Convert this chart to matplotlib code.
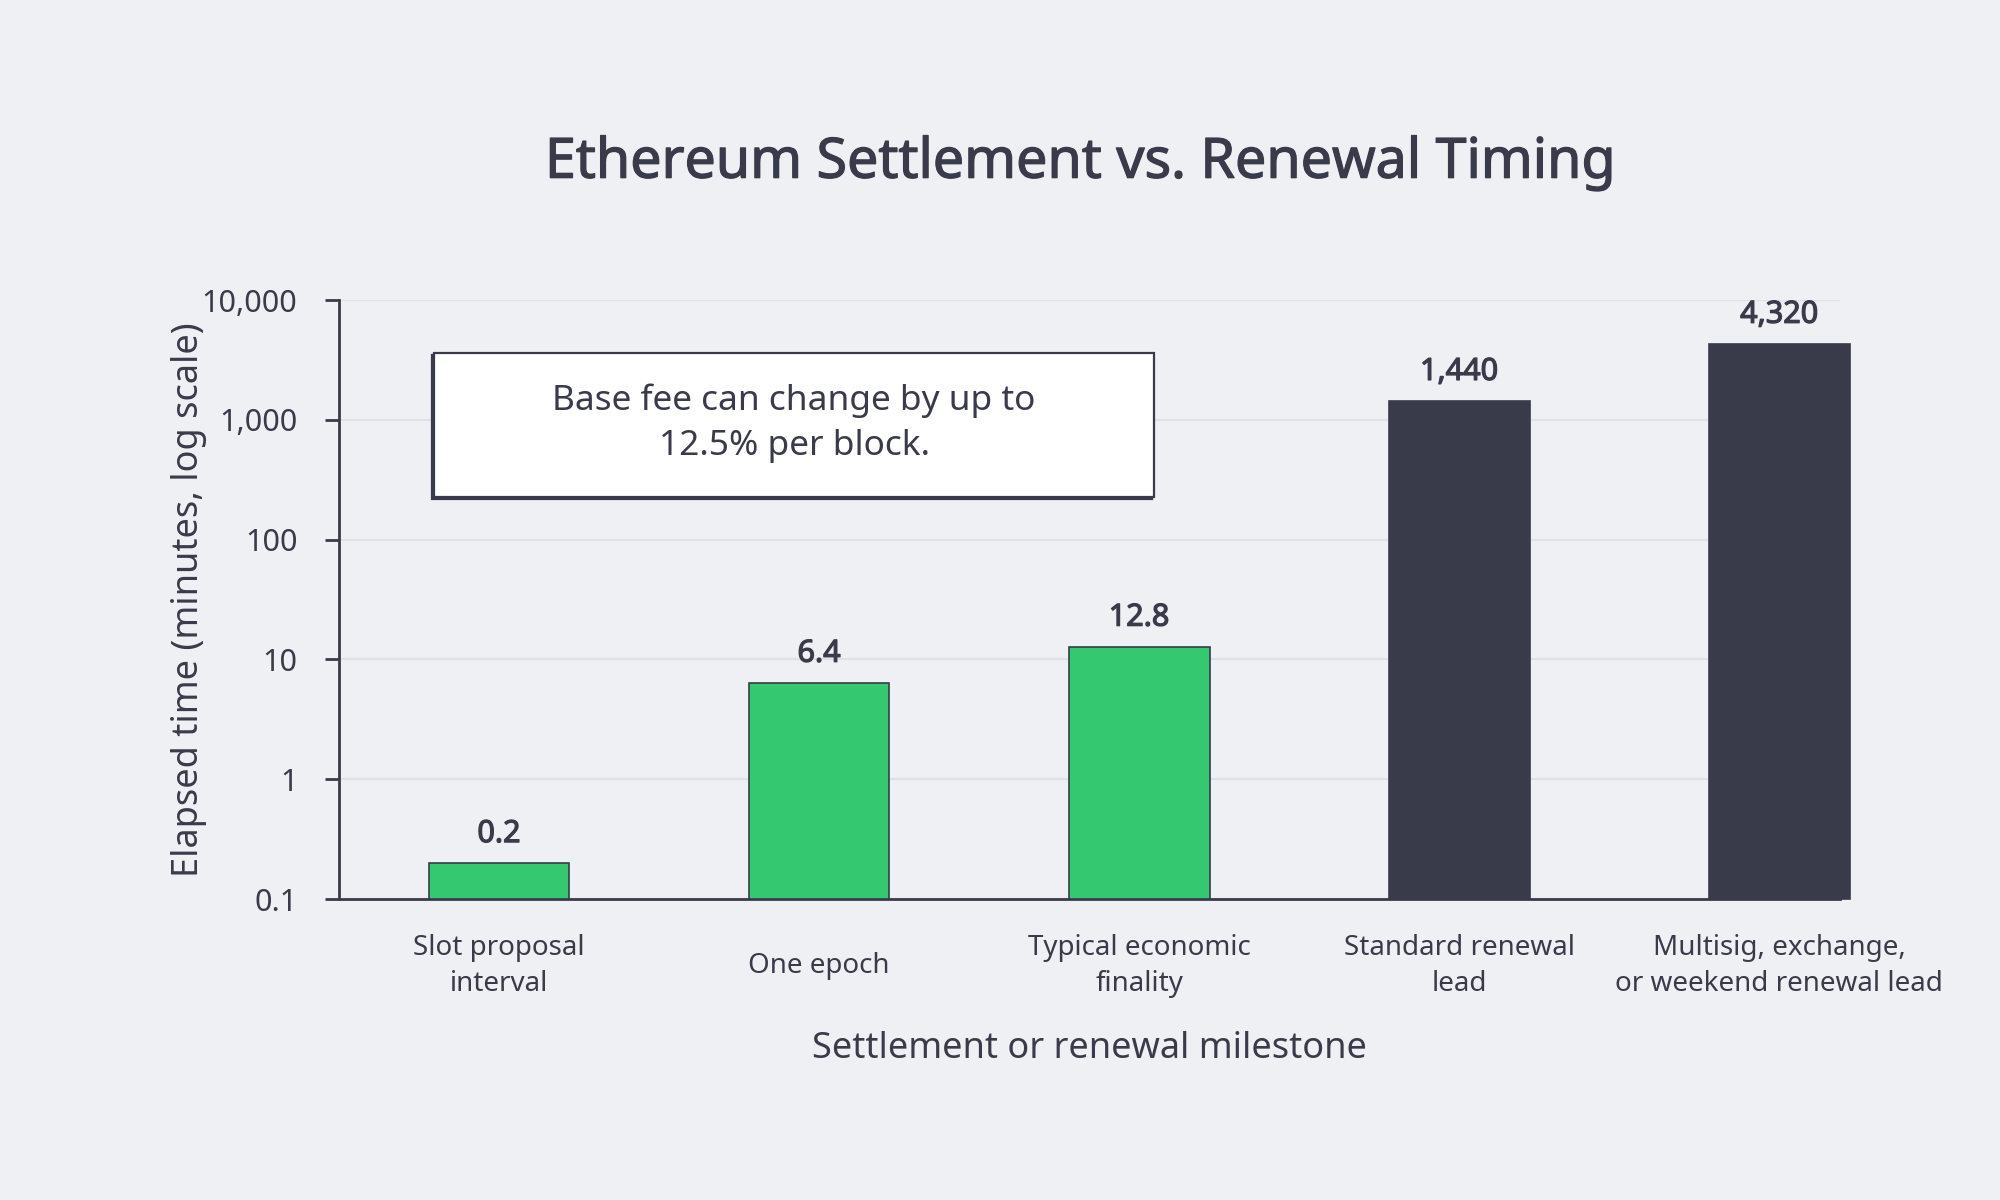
import matplotlib
matplotlib.use("Agg")
import matplotlib.pyplot as plt
import matplotlib.patheffects as pe
from matplotlib.patches import Rectangle
from matplotlib.ticker import FixedLocator, NullLocator

plt.rcParams['font.family'] = ['Noto Sans', 'DejaVu Sans']

categories = ["Slot proposal\ninterval", "One epoch", "Typical economic\nfinality",
              "Standard renewal\nlead", "Multisig, exchange,\nor weekend renewal lead"]
values = [0.2, 6.4, 12.8, 1440, 4320]
value_labels = ["0.2", "6.4", "12.8", "1,440", "4,320"]
groups = ["settlement", "settlement", "settlement", "renewal", "renewal"]
y_ticks = [0.1, 1, 10, 100, 1000, 10000]
y_tick_labels = ["0.1", "1", "10", "100", "1,000", "10,000"]
title = "Ethereum Settlement vs. Renewal Timing"
x_label = "Settlement or renewal milestone"
y_label = "Elapsed time (minutes, log scale)"
note = "Base fee can change by up to\n12.5% per block."

BG = "#EFF0F4"
DARK = "#3A3B4A"
GREEN = "#34C970"
GRID = "#DDE1E8"
colors = {"settlement": GREEN, "renewal": DARK}

fig = plt.figure(figsize=(10, 6), dpi=200, facecolor=BG)
ax = fig.add_axes([0.1695, 0.2508, 0.7505, 0.4992])
ax.set_facecolor(BG)

base = y_ticks[0]
x = list(range(len(categories)))
bars = ax.bar(x, [v - base for v in values], bottom=base, width=0.44,
              color=[colors[g] for g in groups],
              edgecolor=DARK, linewidth=0.6, zorder=3, clip_on=False)
bold = [pe.withStroke(linewidth=0.45, foreground=DARK)]
for xi, v, lab in zip(x, values, value_labels):
    ax.annotate(lab, (xi, v), xytext=(0, 5), textcoords="offset points",
                ha="center", va="bottom", fontsize=11, color=DARK, zorder=4,
                path_effects=bold)

ax.set_yscale("log")
ax.set_ylim(0.1, 10000)
ax.set_xlim(-0.5, 4.19)
ax.yaxis.set_major_locator(FixedLocator(y_ticks))
ax.yaxis.set_minor_locator(NullLocator())
ax.set_yticklabels(y_tick_labels)
ax.set_xticks(x)
ax.set_xticklabels(categories, fontsize=10, color=DARK, linespacing=1.4, va="center")
ax.tick_params(axis="x", length=0, pad=24)
ax.tick_params(axis="y", length=5, width=1.0, color=DARK, labelsize=11, labelcolor=DARK, pad=10)
ax.grid(axis="y", color=GRID, linewidth=0.8, zorder=0)
ax.set_axisbelow(True)

for s in ["top", "right"]:
    ax.spines[s].set_visible(False)
for s in ["left", "bottom"]:
    ax.spines[s].set_color(DARK)
    ax.spines[s].set_linewidth(1.0)

ax.set_xlabel(x_label, fontsize=13, color=DARK, labelpad=12)
ax.set_ylabel(y_label, fontsize=13, color=DARK, labelpad=-2)

fig.text(0.54, 0.864, title, ha="center", va="center", fontsize=20,
         color=DARK, path_effects=[pe.withStroke(linewidth=0.45, foreground=DARK)])

# annotation box
bx0, bx1, by0, by1 = 0.0633, 0.543, 0.671, 0.9115
shadow = Rectangle((bx0 - 0.0013, by0 - 0.0033), bx1 - bx0, by1 - by0, transform=ax.transAxes,
                   facecolor=DARK, edgecolor=DARK, linewidth=0.8, zorder=5, clip_on=False)
box = Rectangle((bx0, by0), bx1 - bx0, by1 - by0, transform=ax.transAxes,
                facecolor="white", edgecolor=DARK, linewidth=0.8, zorder=6, clip_on=False)
ax.add_patch(shadow)
ax.add_patch(box)
ax.text((bx0 + bx1) / 2, (by0 + by1) / 2 + 0.003, note, transform=ax.transAxes, ha="center",
        va="center", fontsize=12.7, color=DARK, zorder=7, linespacing=1.4)

fig.savefig("out.png", dpi=200, facecolor=BG)
